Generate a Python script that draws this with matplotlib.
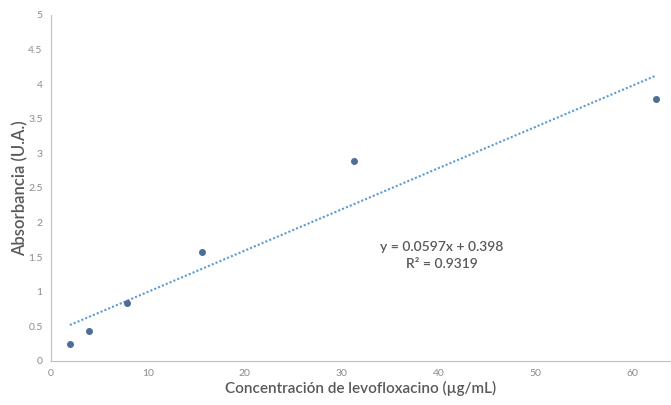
import numpy as np
import matplotlib
matplotlib.use('Agg')
import matplotlib.pyplot as plt

# calibration data
conc = [1.95, 3.9, 7.8, 15.6, 31.25, 62.5]
absorb = [0.24, 0.43, 0.83, 1.57, 2.89, 3.78]
x_ticks = [0, 10, 20, 30, 40, 50, 60]
y_ticks = [0, 0.5, 1, 1.5, 2, 2.5, 3, 3.5, 4, 4.5, 5]
eq_text = 'y = 0.0597x + 0.398\nR² = 0.9319'

plt.rcParams['font.family'] = ['Lato', 'DejaVu Sans']

fig = plt.figure(figsize=(6.71, 4.05), dpi=100)
ax = fig.add_axes([0.076, 0.109, 0.924, 0.854])

# linear trendline
slope, intercept = np.polyfit(conc, absorb, 1)
xs = np.array([conc[0], conc[-1]])
ax.plot(xs, slope * xs + intercept, linestyle=(0, (1, 1)), color='#5b9bd5', lw=1.5)

ax.scatter(conc, absorb, s=16, color='#4f6d96', zorder=3)

ax.set_xlim(0, 64)
ax.set_ylim(0, 5)
ax.set_xticks(x_ticks)
ax.set_yticks(y_ticks)
ax.set_yticklabels([f'{v:g}' for v in y_ticks])
ax.tick_params(length=0, labelsize=7.5, colors='#8c8c8c', pad=6)

for s in ['top', 'right']:
    ax.spines[s].set_visible(False)
for s in ['left', 'bottom']:
    ax.spines[s].set_color('#bfbfbf')

ax.set_xlabel('Concentración de levofloxacino (µg/mL)', fontsize=11, color='#595959',
              labelpad=2, fontweight='semibold')
ax.set_ylabel('Absorbancia (U.A.)', fontsize=12, color='#595959', labelpad=0,
              fontweight='semibold')

ax.text(40.3, 1.52, eq_text, fontsize=10, color='#595959', ha='center', va='center',
        multialignment='center', linespacing=1.5, fontweight='semibold')

fig.savefig('out.png', dpi=100)
